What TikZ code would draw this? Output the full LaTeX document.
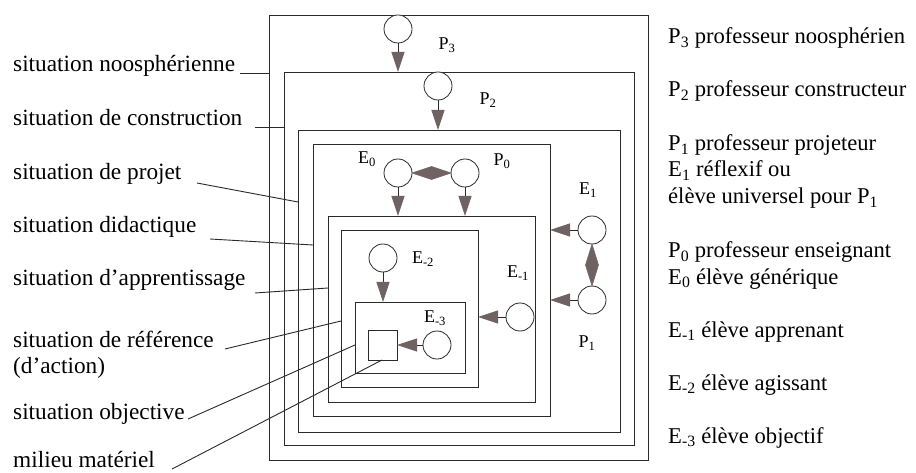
\documentclass[tikz,border=0pt]{standalone}
\usepackage{fontspec}
\setmainfont{Liberation Serif}
\usetikzlibrary{arrows.meta}
\definecolor{tipgrey}{HTML}{6F6262}
\definecolor{inkc}{HTML}{2A2A2A}
\begin{document}
\begin{tikzpicture}[x=1pt,y=-1pt,
  box/.style={draw=inkc, line width=0.9pt, inner sep=0pt, outer sep=0pt, anchor=north west},
  circ/.style={draw=inkc, line width=0.8pt, circle, minimum size=28pt, inner sep=0pt, outer sep=0pt, fill=white},
  arr/.style={draw=inkc, line width=0.8pt, -{Triangle[length=20pt,width=13pt,fill=tipgrey,color=tipgrey]}},
  diafill/.style={fill=tipgrey, draw=tipgrey, line width=0.5pt},
  lead/.style={draw=inkc, line width=0.9pt},
  bigtxt/.style={font=\fontsize{23.3}{28}\selectfont, inner sep=0pt, anchor=base west},
  legtxt/.style={font=\fontsize{22.6}{27}\selectfont, inner sep=0pt, anchor=base west},
  smalltxt/.style={font=\fontsize{18}{22}\selectfont, inner sep=0pt}
]
\useasboundingbox[fill=white] (0,0) rectangle (916,473);

% nested situations
\node[box, minimum width=379pt, minimum height=445pt] (R1) at (269,15) {};
\node[box, minimum width=350pt, minimum height=373pt] (R2) at (284,72) {};
\node[box, minimum width=322pt, minimum height=302pt] (R3) at (298,130) {};
\node[box, minimum width=237pt, minimum height=272pt] (R4) at (313,144) {};
\node[box, minimum width=207pt, minimum height=186pt] (R5) at (328,216) {};
\node[box, minimum width=137pt, minimum height=157pt] (R6) at (341,230) {};
\node[box, minimum width=110pt, minimum height=71pt] (R7) at (355,302) {};
\node[box, minimum width=29pt, minimum height=30pt] (SQ) at (368,330) {};

% actors
\node[circ] (cP3) at (398,29) {};
\node[circ] (cP2) at (438,86) {};
\node[circ] (cE0) at (398,173) {};
\node[circ] (cP0) at (465,173) {};
\node[circ] (cE1) at (592,230) {};
\node[circ] (cP1) at (592,300) {};
\node[circ] (cEm1) at (520,317) {};
\node[circ] (cEm2) at (383,258) {};
\node[circ] (cEm3) at (437,345) {};

% arrows
\draw[arr] (cP3) -- (cP3 |- R2.north);
\draw[arr] (cP2) -- (cP2 |- R3.north);
\draw[arr] (cE0) -- (cE0 |- R5.north);
\draw[arr] (cP0) -- (cP0 |- R5.north);
\draw[arr] (cE1) -- (cE1 -| R4.east);
\draw[arr] (cP1) -- (cP1 -| R4.east);
\draw[arr] (cEm1) -- (cEm1 -| R6.east);
\draw[arr] (cEm2) -- (cEm2 |- R7.north);
\draw[arr] (cEm3) -- (SQ.east);

% double links (diamonds)
\path (cE0.east) -- (cP0.west) coordinate[pos=0.5] (mEP);
\filldraw[diafill] (cE0.east) -- ([yshift=6.5pt]mEP) -- (cP0.west) -- ([yshift=-6.5pt]mEP) -- cycle;
\path (cE1.south) -- (cP1.north) coordinate[pos=0.5] (mEE);
\filldraw[diafill] (cE1.south) -- ([xshift=6.5pt]mEE) -- (cP1.north) -- ([xshift=-6.5pt]mEE) -- cycle;

% inner labels
\node[smalltxt] (tP3) at (447,45) {P\textsubscript{3}};
\node[smalltxt] (tP2) at (488,100) {P\textsubscript{2}};
\node[smalltxt] (tE0) at (367,159) {E\textsubscript{0}};
\node[smalltxt] (tP0) at (502,161) {P\textsubscript{0}};
\node[smalltxt] (tE1) at (588,190) {E\textsubscript{1}};
\node[smalltxt] (tP1) at (587,343) {P\textsubscript{1}};
\node[smalltxt] (tEm1) at (518,273) {E\textsubscript{-1}};
\node[smalltxt] (tEm2) at (423,259) {E\textsubscript{-2}};
\node[smalltxt] (tEm3) at (435,318) {E\textsubscript{-3}};

% left labels
\node[bigtxt] (s1) at (13,72) {situation noosphérienne};
\node[bigtxt] (s2) at (13,126) {situation de construction};
\node[bigtxt] (s3) at (13,180) {situation de projet};
\node[bigtxt] (s4) at (13,233) {situation didactique};
\node[bigtxt] (s5) at (13,285) {situation d’apprentissage};
\node[bigtxt] (s6) at (13,347) {situation de référence};
\node[bigtxt] (s6b) at (13,373) {(d’action)};
\node[bigtxt] (s7) at (13,419) {situation objective};
\node[bigtxt] (s8) at (13,467) {milieu matériel};

% leader lines
\coordinate (a1) at (240,73);  \coordinate (b1) at (269,73);
\coordinate (a2) at (255,127); \coordinate (b2) at (284,127);
\coordinate (a3) at (197,183); \coordinate (b3) at (298,202);
\coordinate (a4) at (210,239); \coordinate (b4) at (313,245);
\coordinate (a5) at (255,293); \coordinate (b5) at (328,288);
\coordinate (a6) at (225,349); \coordinate (b6) at (341,321);
\coordinate (a7) at (188,419); \coordinate (b7) at (355,345);
\coordinate (a8) at (172,469); \coordinate (b8) at (382,360);
\draw[lead] (a1) -- (b1);
\draw[lead] (a2) -- (b2);
\draw[lead] (a3) -- (b3);
\draw[lead] (a4) -- (b4);
\draw[lead] (a5) -- (b5);
\draw[lead] (a6) -- (b6);
\draw[lead] (a7) -- (b7);
\draw[lead] (a8) -- (b8);

% right legend
\node[legtxt] (r1) at (668,44) {P\textsubscript{3} professeur noosphérien};
\node[legtxt] (r2) at (668,97) {P\textsubscript{2} professeur constructeur};
\node[legtxt] (r3) at (668,151) {P\textsubscript{1} professeur projeteur};
\node[legtxt] (r4) at (668,177) {E\textsubscript{1} réflexif ou};
\node[legtxt] (r5) at (668,204) {élève universel pour P\textsubscript{1}};
\node[legtxt] (r6) at (668,258) {P\textsubscript{0} professeur enseignant};
\node[legtxt] (r7) at (668,284) {E\textsubscript{0} élève générique};
\node[legtxt] (r8) at (668,337) {E\textsubscript{-1} élève apprenant};
\node[legtxt] (r9) at (668,390) {E\textsubscript{-2} élève agissant};
\node[legtxt] (r10) at (668,443) {E\textsubscript{-3} élève objectif};
\end{tikzpicture}
\end{document}
